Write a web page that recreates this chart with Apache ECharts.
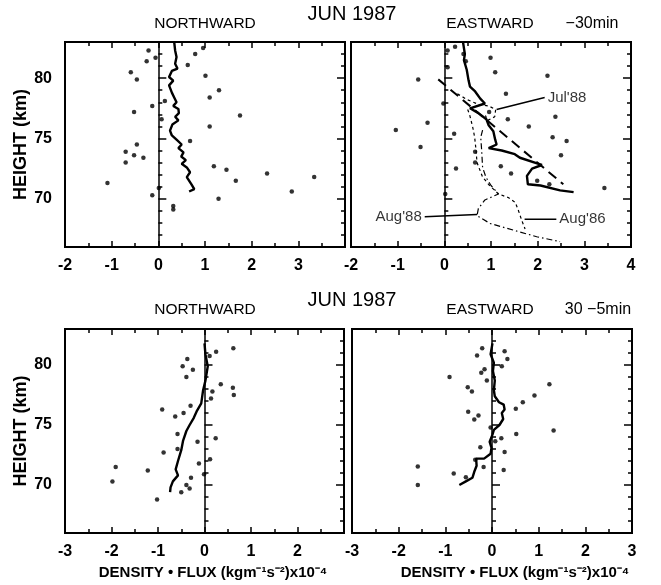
<!DOCTYPE html>
<html>
<head>
<meta charset="utf-8">
<title>JUN 1987 momentum flux profiles</title>
<script src="https://cdn.jsdelivr.net/npm/echarts@6/dist/echarts.min.js"></script>
<style>
  html, body { margin: 0; padding: 0; background: #fff; }
  #chart { width: 661px; height: 585px; }
</style>
</head>
<body>
<div id="chart"></div>
<script>
(function (echarts) {
  "use strict";

  // tick labels
  var heightLabels = [70, 75, 80];
  var fluxLabelsTopLeft = [-2, -1, 0, 1, 2, 3];
  var fluxLabelsTopRight = [-2, -1, 0, 1, 2, 3, 4];
  var fluxLabelsBottomLeft = [-3, -2, -1, 0, 1, 2];
  var fluxLabelsBottomRight = [-3, -2, -1, 0, 1, 2, 3];

  // -30min, northward : [flux, height]
  var north30Dots = [[-0.21, 82.3], [-0.25, 81.4], [-0.59, 80.5], [-0.46, 79.9], [-0.06, 81.7], [0.79, 82.0],
    [0.63, 81.1], [0.96, 82.5], [1.01, 80.2], [1.30, 79.0], [1.10, 78.4], [0.14, 78.1], [-0.13, 77.7],
    [-0.52, 77.2], [1.75, 76.9], [0.07, 76.6], [1.10, 76.0], [0.68, 74.8], [-0.46, 74.5], [-0.70, 73.9],
    [-0.52, 73.6], [-0.32, 73.4], [-0.70, 73.0], [1.19, 72.7], [1.46, 72.4], [2.33, 72.1], [3.34, 71.8],
    [-1.09, 71.3], [1.66, 71.5], [0.01, 70.9], [2.86, 70.6], [-0.13, 70.3], [1.29, 70.0], [0.32, 69.4], [0.32, 69.1]];
  var north30Mean = [[0.34, 83.0], [0.36, 82.3], [0.39, 81.75], [0.36, 81.2], [0.41, 80.8], [0.29, 80.6],
    [0.23, 80.1], [0.32, 79.8], [0.23, 79.4], [0.29, 78.8], [0.34, 78.4], [0.39, 78.0], [0.32, 77.7],
    [0.43, 77.45], [0.44, 77.1], [0.36, 76.8], [0.43, 76.5], [0.30, 76.15], [0.25, 75.65], [0.29, 75.25],
    [0.39, 74.9], [0.50, 74.5], [0.43, 74.2], [0.54, 73.85], [0.49, 73.5], [0.59, 73.2], [0.50, 72.9],
    [0.61, 72.6], [0.68, 72.2], [0.61, 71.8], [0.71, 71.2], [0.77, 70.8], [0.66, 70.6]];

  // -30min, eastward
  var east30Dots = [[0.23, 82.6], [0.41, 82.0], [0.99, 81.7], [0.46, 81.4], [0.07, 82.3], [0.07, 80.9],
    [1.09, 80.5], [2.21, 80.2], [-0.56, 79.9], [-0.02, 77.9], [1.32, 78.7], [0.96, 77.2], [-0.36, 76.3],
    [-1.04, 75.7], [1.36, 76.6], [2.38, 76.8], [1.81, 76.0], [0.21, 75.4], [2.32, 75.1], [2.62, 74.8],
    [-0.51, 74.3], [0.66, 73.9], [2.50, 73.6], [0.66, 73.0], [1.21, 72.7], [0.25, 72.5], [1.43, 72.1],
    [1.99, 71.5], [2.25, 71.2], [3.43, 70.9], [0.02, 70.4]];
  var east30Mean = [[0.40, 83.0], [0.44, 82.0], [0.42, 81.5], [0.48, 80.7], [0.52, 79.8], [0.55, 79.3],
    [0.66, 78.9], [0.77, 78.3], [0.87, 77.9], [0.55, 77.5], [0.73, 77.1], [0.90, 76.6], [0.95, 76.1],
    [1.05, 75.6], [1.09, 74.9], [1.12, 74.5], [0.95, 74.2], [1.23, 74.0], [1.51, 73.7], [1.62, 73.4],
    [2.02, 72.9], [2.09, 72.8], [1.88, 72.5], [1.77, 71.9], [1.79, 71.2], [2.06, 71.1], [2.48, 70.7], [2.77, 70.55]];
  var east30Trend = [[-0.13, 79.9], [2.55, 71.2]];
  var jul88 = [[0.28, 78.7], [0.50, 78.2], [0.75, 77.8], [0.95, 77.7], [1.10, 77.4], [1.08, 76.8],
    [0.93, 76.5], [0.88, 76.9]];
  var aug86 = [[0.50, 77.4], [0.54, 77.0], [0.61, 75.9], [0.65, 75.1], [0.68, 74.0], [0.70, 73.0],
    [0.82, 71.8], [0.97, 71.1], [1.16, 70.4], [1.37, 70.1], [1.52, 69.7], [1.59, 69.0], [1.66, 68.2], [1.73, 67.5]];
  var aug88 = [[0.82, 75.7], [0.78, 75.1], [0.80, 74.0], [0.82, 72.6], [0.89, 71.8], [1.00, 71.1],
    [1.16, 70.4], [0.87, 69.9], [0.73, 69.2], [0.70, 68.6], [0.98, 67.95], [1.48, 67.4], [1.98, 66.85], [2.48, 66.45]];
  var curveNames = ["Jul'88", "Aug'88", "Aug'86"];
  var curveLeaders = [
    [[1.12, 77.4], [2.15, 78.4]],
    [[0.70, 68.7], [-0.42, 68.5]],
    [[1.72, 68.3], [2.40, 68.3]]
  ];

  // 30-5min, northward
  var north5Dots = [[0.62, 81.4], [0.25, 81.1], [0.11, 80.75], [-0.37, 80.5], [-0.47, 79.9], [-0.25, 79.6],
    [-0.39, 79.0], [0.35, 78.4], [0.61, 78.1], [0.17, 77.8], [0.63, 77.5], [0.14, 77.2], [-0.30, 76.6],
    [-0.91, 76.3], [-0.45, 76.0], [-0.63, 75.7], [-0.58, 74.25], [-0.15, 73.6], [0.24, 73.9], [-0.58, 73.0],
    [-0.88, 72.7], [0.12, 72.15], [-0.12, 71.8], [-1.91, 71.5], [-1.22, 71.2], [-0.01, 70.9], [-0.29, 70.6],
    [-1.98, 70.3], [-0.39, 70.0], [-0.32, 69.7], [-0.50, 69.4], [-1.02, 68.8]];
  var north5Mean = [[0.0, 81.8], [0.02, 80.9], [0.07, 79.9], [0.02, 78.7], [-0.03, 77.9], [-0.07, 76.8],
    [-0.16, 76.2], [-0.23, 75.6], [-0.32, 75.0], [-0.39, 74.5], [-0.46, 73.7], [-0.50, 72.9], [-0.57, 72.0],
    [-0.62, 71.3], [-0.57, 70.8], [-0.68, 70.3], [-0.73, 69.8], [-0.74, 69.4]];

  // 30-5min, eastward
  var east5Dots = [[-0.21, 81.4], [0.27, 81.15], [-0.32, 80.8], [0.33, 80.5], [0.21, 79.9], [-0.16, 79.65],
    [-0.23, 79.35], [-0.91, 79.0], [-0.11, 78.7], [-0.52, 78.15], [-0.43, 77.8], [1.23, 78.4], [0.91, 77.45],
    [0.66, 76.9], [0.51, 76.35], [-0.51, 76.1], [-0.29, 75.8], [-0.38, 75.45], [-0.03, 74.8], [0.52, 74.25],
    [1.32, 74.55], [0.20, 73.9], [0.07, 73.65], [-0.25, 73.15], [0.27, 72.75], [-0.36, 72.1], [-0.18, 71.5],
    [0.25, 71.25], [-1.59, 71.55], [-0.82, 70.95], [-0.56, 70.65], [-1.59, 70.0]];
  var east5Mean = [[0.01, 81.8], [-0.03, 80.9], [0.04, 80.2], [0.02, 79.5], [0.06, 78.7], [0.04, 77.9],
    [0.06, 77.4], [0.15, 76.9], [0.25, 76.7], [0.27, 76.3], [0.21, 76.0], [0.24, 75.5], [0.16, 75.0],
    [0.04, 74.6], [0.01, 74.2], [-0.05, 73.6], [-0.01, 73.1], [-0.03, 72.6], [-0.17, 72.2], [-0.34, 72.2],
    [-0.33, 71.6], [-0.38, 71.1], [-0.42, 70.6], [-0.56, 70.3], [-0.70, 70.0]];

  var FONT = '"Liberation Sans", Arial, sans-serif';
  var INK = '#000';
  var HEIGHT_MIN = 66, HEIGHT_MAX = 83;

  var panels = [
    { box: { left: 65, top: 42, width: 280, height: 205 }, xMin: -2, xMax: 4, xLabels: fluxLabelsTopLeft, yName: true, dots: north30Dots, mean: north30Mean },
    { box: { left: 351, top: 42, width: 280, height: 205 }, xMin: -2, xMax: 4, xLabels: fluxLabelsTopRight, yName: false, dots: east30Dots, mean: east30Mean },
    { box: { left: 65, top: 329, width: 279, height: 204 }, xMin: -3, xMax: 3, xLabels: fluxLabelsBottomLeft, yName: true, dots: north5Dots, mean: north5Mean },
    { box: { left: 352, top: 329, width: 280, height: 204 }, xMin: -3, xMax: 3, xLabels: fluxLabelsBottomRight, yName: false, dots: east5Dots, mean: east5Mean }
  ];

  var tickStyle = { color: INK, width: 1.5 };
  var grids = [], xAxes = [], yAxes = [], series = [];

  panels.forEach(function (p, i) {
    grids.push(Object.assign({ show: true, borderColor: INK, borderWidth: 2, backgroundColor: 'transparent' }, p.box));

    ['bottom', 'top'].forEach(function (pos) {
      xAxes.push({
        type: 'value', gridIndex: i, position: pos, min: p.xMin, max: p.xMax, interval: 1,
        axisLine: { show: false }, splitLine: { show: false },
        axisTick: { inside: true, length: 6, lineStyle: tickStyle },
        minorTick: { show: true, splitNumber: 2, length: 4, lineStyle: tickStyle },
        axisLabel: pos === 'bottom'
          ? { customValues: p.xLabels, margin: 11, color: INK, fontSize: 16, fontWeight: 'bold', fontFamily: FONT }
          : { show: false }
      });
    });

    ['left', 'right'].forEach(function (pos) {
      var showLabels = pos === 'left' && p.yName;
      yAxes.push({
        type: 'value', gridIndex: i, position: pos, min: HEIGHT_MIN, max: HEIGHT_MAX, interval: 1,
        axisLine: { show: false }, splitLine: { show: false },
        axisTick: { inside: true, length: 4, lineStyle: tickStyle },
        axisLabel: showLabels
          ? { customValues: heightLabels, margin: 13, color: INK, fontSize: 16, fontWeight: 'bold', fontFamily: FONT }
          : { show: false },
        name: showLabels ? 'HEIGHT (km)' : '',
        nameLocation: 'middle', nameRotate: 90, nameGap: 33,
        nameTextStyle: { color: INK, fontSize: 18, fontWeight: 'bold', fontFamily: FONT }
      });
      yAxes.push({
        type: 'value', gridIndex: i, position: pos, min: HEIGHT_MIN, max: HEIGHT_MAX,
        axisLine: { show: false }, splitLine: { show: false },
        axisTick: { inside: true, length: 8, customValues: heightLabels, lineStyle: tickStyle },
        axisLabel: { show: false }
      });
    });

    series.push({
      type: 'scatter', xAxisIndex: 2 * i, yAxisIndex: 4 * i, data: p.dots,
      symbol: 'circle', symbolSize: 4.5, itemStyle: { color: INK }, silent: true,
      markLine: {
        silent: true, symbol: ['none', 'none'], label: { show: false },
        lineStyle: { color: INK, width: 1.5, type: 'solid' },
        data: [{ xAxis: 0 }]
      }
    });
    series.push({
      type: 'line', xAxisIndex: 2 * i, yAxisIndex: 4 * i, data: p.mean,
      symbol: 'none', lineStyle: { color: INK, width: 2.4 }, z: 4
    });
  });

  function curve(data, dash, width) {
    return {
      type: 'line', xAxisIndex: 2, yAxisIndex: 4, data: data, symbol: 'none',
      lineStyle: { color: INK, width: width, type: dash }, z: 3
    };
  }

  series.push(curve(east30Trend, [10, 6], 2));
  series.push(curve(jul88, [3, 3], 1.2));
  series.push(curve(aug86, [3, 3], 1.2));
  series.push(curve(aug88, [6, 3, 1.5, 3], 1.2));

  curveLeaders.forEach(function (leader, k) {
    series.push(curve(leader, 'solid', 1.5));
    series.push({
      type: 'scatter', xAxisIndex: 2, yAxisIndex: 4, symbolSize: 0, silent: true,
      data: [leader[1]],
      label: {
        show: true, formatter: curveNames[k], position: leader[1][0] < leader[0][0] ? 'left' : 'right',
        distance: 3, color: INK, fontSize: 15, fontFamily: FONT
      }
    });
  });

  function heading(text, x, y, size, bold) {
    return {
      text: text, left: x, top: y, textAlign: 'center', padding: 0,
      textStyle: { color: INK, fontSize: size, fontWeight: bold ? 'bold' : 'normal', fontFamily: FONT }
    };
  }

  var fluxName = 'DENSITY \u2022 FLUX (kgm\u207B\u00B9s\u207B\u00B2)x10\u207B\u2074';

  var option = {
    animation: false,
    backgroundColor: '#fff',
    title: [
      heading('NORTHWARD', 205, 16, 15.5, false),
      heading('JUN 1987', 352, 4, 20, false),
      heading('EASTWARD', 490, 16, 15.5, false),
      heading('\u221230min', 592, 16, 16, false),
      heading('NORTHWARD', 205, 302, 15.5, false),
      heading('JUN 1987', 352, 290, 20, false),
      heading('EASTWARD', 490, 302, 15.5, false),
      heading('30 \u22125min', 598, 302, 16, false),
      heading(fluxName, 213, 565, 15, true),
      heading(fluxName, 515, 565, 15, true)
    ],
    grid: grids,
    xAxis: xAxes,
    yAxis: yAxes,
    series: series
  };

  var chart = echarts.init(document.getElementById('chart'));
  chart.setOption(option);
})(echarts);
</script>
</body>
</html>
